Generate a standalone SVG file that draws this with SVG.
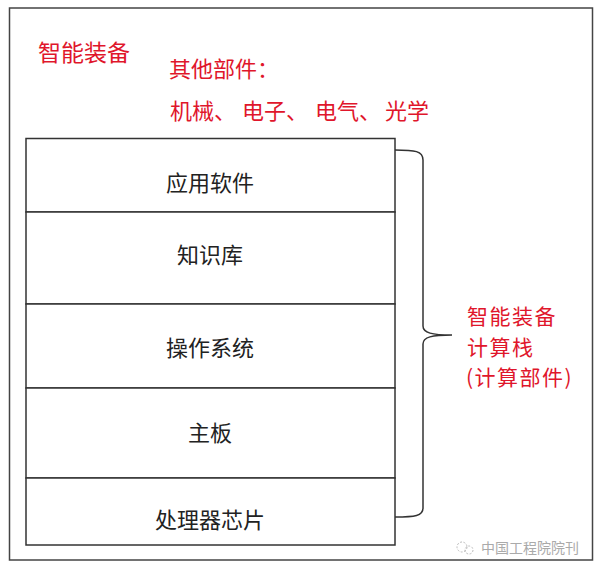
<svg xmlns="http://www.w3.org/2000/svg" width="600" height="575" viewBox="0 0 600 575">
<style>
.box{fill:#fff;stroke:#333;stroke-width:1.5}
.lbl{font-family:"Noto Sans CJK SC","Noto Sans",sans-serif;font-size:22px;fill:#222;text-anchor:middle}
.red{font-family:"Noto Sans CJK SC","Liberation Sans",sans-serif;font-size:22px;fill:#e0162b}
.wm{font-family:"Noto Sans CJK SC",sans-serif;font-size:14px;fill:#aaa}
</style>
<rect x="0" y="0" width="600" height="575" fill="#fff"/>
<rect id="outer" x="9.5" y="8" width="583" height="552" fill="#fff" stroke="#444" stroke-width="1.5"/>
<g id="titles">
<text class="red" x="38" y="61" style="font-size:23px">智能装备</text>
<text class="red" x="169" y="77">其他部件：</text>
<text class="red" y="119"><tspan x="170">机械、</tspan><tspan x="242">电子、</tspan><tspan x="315">电气、</tspan><tspan x="385">光学</tspan></text>
</g>
<g id="n-app"><rect class="box" x="26" y="138.5" width="369" height="73.5"/><text class="lbl" x="210" y="191">应用软件</text></g>
<g id="n-kb"><rect class="box" x="26" y="212" width="369" height="92"/><text class="lbl" x="210" y="263">知识库</text></g>
<g id="n-os"><rect class="box" x="26" y="304" width="369" height="84"/><text class="lbl" x="210" y="356">操作系统</text></g>
<g id="n-board"><rect class="box" x="26" y="388" width="369" height="90"/><text class="lbl" x="210" y="441">主板</text></g>
<g id="n-chip"><rect class="box" x="26" y="478" width="369" height="67"/><text class="lbl" x="210" y="528">处理器芯片</text></g>
<g id="connectors">
<path d="M395,150 C415,150 423,151 423,160 L423,326 C423,333 432,335 452,335 C432,335 423,337 423,344 L423,508 C423,516 415,517 395,517" fill="none" stroke="#333" stroke-width="1.5"/>
</g>
<g id="n-stack">
<text class="red" x="467" y="324" style="font-size:21px;letter-spacing:1.5px">智能装备</text>
<text class="red" x="467" y="354.5" style="font-size:21px;letter-spacing:1.5px">计算栈</text>
<text class="red" x="466" y="385" style="font-size:21px;letter-spacing:1.5px">(计算部件)</text>
</g>
<g id="watermark">
<circle cx="462" cy="547" r="5" fill="none" stroke="#bbb" stroke-width="1" stroke-dasharray="2,1.5"/>
<circle cx="469" cy="550" r="4" fill="none" stroke="#bbb" stroke-width="1" stroke-dasharray="2,1.5"/>
<text class="wm" x="481" y="553">中国工程院院刊</text>
</g>
</svg>
